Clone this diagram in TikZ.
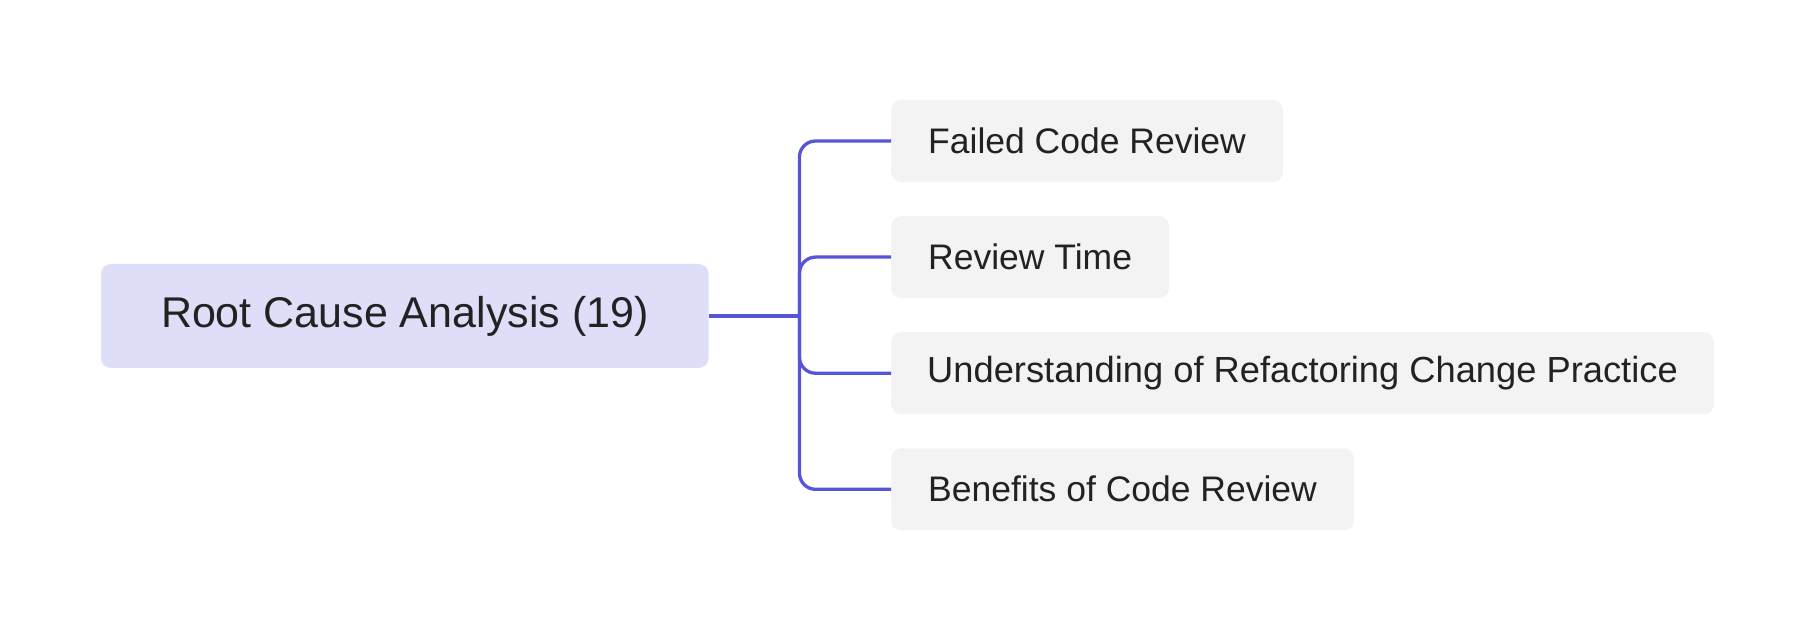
\documentclass[tikz,border=0pt]{standalone}
\usepackage{fontspec}
\setmainfont{Liberation Sans}
\usetikzlibrary{positioning}
\definecolor{rootFill}{HTML}{DEDEF8}
\definecolor{leafFill}{HTML}{F3F3F3}
\definecolor{branch}{HTML}{5755D7}
\definecolor{ink}{HTML}{222222}
\tikzstyle{rootblock} = [rectangle, 
			fill = rootFill, 
			rounded corners = 10pt, 
			text = ink, 
			font = \fontsize{43}{52}\selectfont, 
			inner xsep = 60pt, 
			minimum height = 104pt]
\tikzstyle{leaf} = [rectangle, 
			fill = leafFill, 
			rounded corners = 10pt, 
			text = ink, 
			font = \fontsize{35.5}{43}\selectfont, 
			inner xsep = 37pt, 
			minimum height = 82pt, 
			anchor = west]
\tikzstyle{line} = [draw = branch, line width = 3.3pt]

\begin{document}
\begin{tikzpicture}[x = 1pt, y = 1pt, node distance = 33.7pt]
	\useasboundingbox (0,0) rectangle (1814,632);
	\node [rootblock] (rootCause) at (404.8,316) {Root Cause Analysis (19)};
	\node [leaf] (failed) at (891,491) {Failed Code Review};
	\node [leaf, below=of failed.south west, anchor=north west] (time) {Review Time};
	\node [leaf, below=of time.south west, anchor=north west, font=\fontsize{36.3}{43}\selectfont, inner xsep=36pt] (understanding) {Understanding of Refactoring Change Practice};
	\node [leaf, below=of understanding.south west, anchor=north west] (benefits) {Benefits of Code Review};
	\coordinate (trunk) at (799.5,316);
	\path [line] (rootCause.east) -- (trunk);
	\path [line, rounded corners = 16pt] (trunk) |- (failed.west);
	\path [line, rounded corners = 16pt] (trunk) |- (time.west);
	\path [line, rounded corners = 16pt] (trunk) |- (understanding.west);
	\path [line, rounded corners = 16pt] (trunk) |- (benefits.west);
\end{tikzpicture}
\end{document}
